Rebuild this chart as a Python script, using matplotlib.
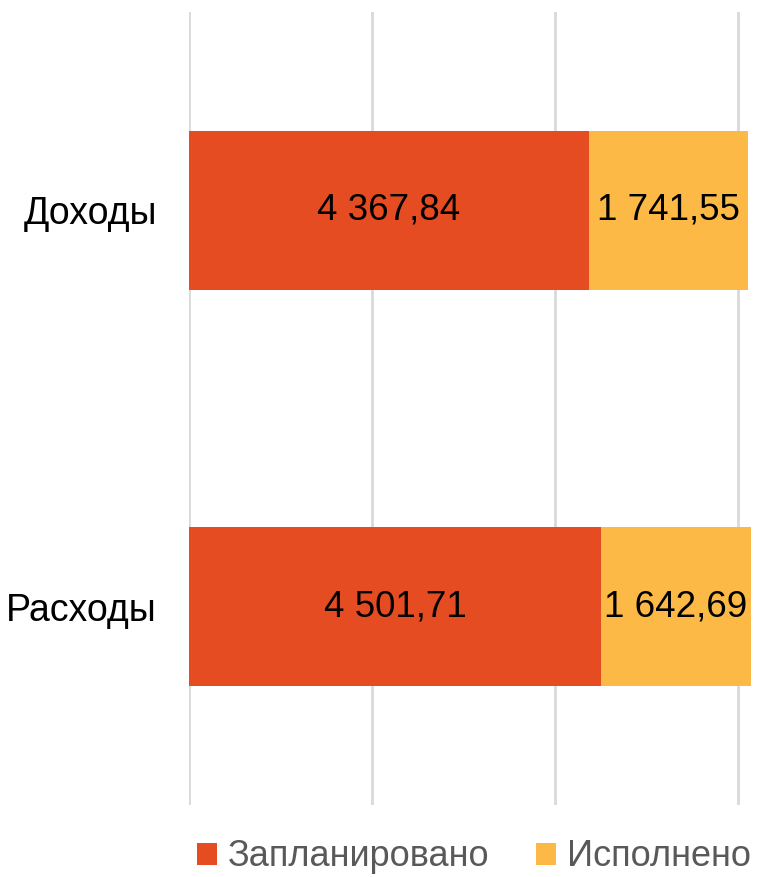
import matplotlib
matplotlib.use("Agg")
import matplotlib.pyplot as plt

categories = ["Доходы", "Расходы"]
planned = [4367.84, 4501.71]
executed = [1741.55, 1642.69]
planned_labels = ["4 367,84", "4 501,71"]
executed_labels = ["1 741,55", "1 642,69"]
series_names = ["Запланировано", "Исполнено"]

red = "#E64C22"
yellow = "#FDB945"

plt.rcParams['font.family'] = ['Liberation Sans', 'DejaVu Sans']

fig = plt.figure(figsize=(7.6, 8.77), dpi=100)
ax = fig.add_axes([189/760, 72/877, 1 - 189/760, (805-12)/877])

y = [0, 1]
b1 = ax.barh(y, planned, height=0.4, color=red, label=series_names[0], zorder=2)
b2 = ax.barh(y, executed, left=planned, height=0.4, color=yellow, label=series_names[1], zorder=2)
ax.bar_label(b1, labels=planned_labels, label_type='center', fontsize=26.5, color='black')
ax.bar_label(b2, labels=executed_labels, label_type='center', fontsize=26.5, color='black')

ax.set_xlim(0, 6240)
ax.set_ylim(1.5, -0.5)
ax.set_xticks([0, 2000, 4000, 6000])
ax.set_xticklabels([])
ax.tick_params(axis='x', length=0)
ax.set_yticks(y)
ax.set_yticklabels(categories, fontsize=27)
ax.tick_params(axis='y', length=0, pad=23)
ax.grid(axis='x', color='#D9D9D9', linewidth=2, zorder=0)
for s in ax.spines.values():
    s.set_visible(False)

fig.legend(handles=[b1, b2], labels=series_names, loc='center',
           bbox_to_anchor=(474/760, 1 - 857/877), ncol=2, frameon=False, fontsize=26,
           labelcolor='#595959', handlelength=0.55, handleheight=0.55,
           handletextpad=0.3, columnspacing=1.3, borderpad=0, borderaxespad=0)

fig.savefig("out.png", dpi=100)
